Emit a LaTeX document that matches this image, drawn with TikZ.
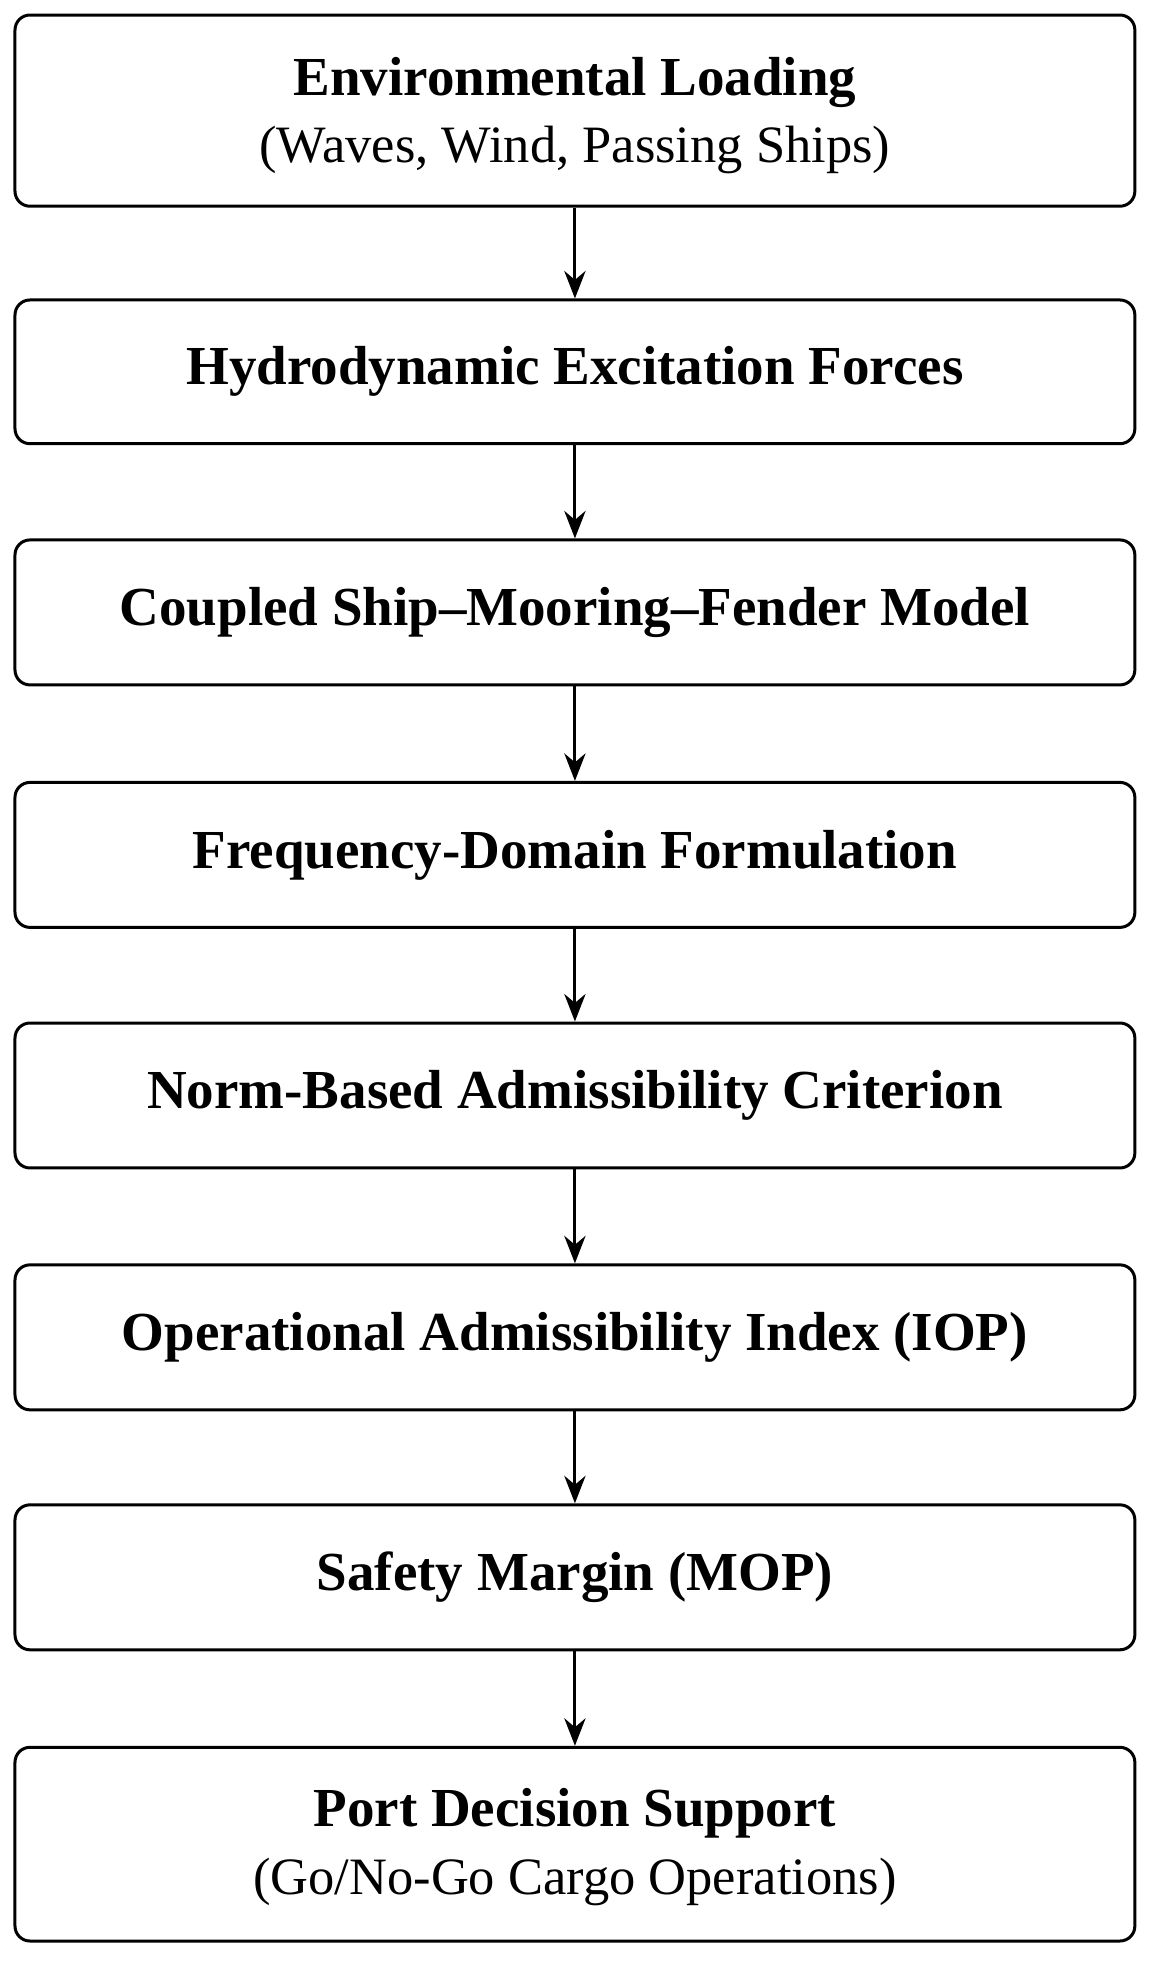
\documentclass[tikz,border=0pt]{standalone}
\usepackage{fontspec}
\setmainfont{Liberation Serif}
\usetikzlibrary{arrows.meta}
\begin{document}
\begin{tikzpicture}[x=0.5pt,y=-0.5pt,
 box/.style={draw,line width=1.2pt,rounded corners=6pt,minimum width=448pt,align=center,inner sep=0pt},
 arr/.style={-{Stealth[length=11pt,width=8.5pt]},line width=1.2pt},
 t/.style={font=\fontsize{22}{26}\selectfont\bfseries},
 s/.style={font=\fontsize{21}{25}\selectfont}]
\useasboundingbox (0,0) rectangle (920,1569);
\node[box,minimum height=76.5pt] (b1) at (460,88.5) {};
\node[t] at (460,66) {Environmental Loading};
\node[s] at (460,120) {(Waves, Wind, Passing Ships)};
\node[box,minimum height=57.5pt,t] (b2) at (460,297.5) {Hydrodynamic Excitation Forces};
\node[box,minimum height=58pt,t] (b3) at (460,490) {Coupled Ship–Mooring–Fender Model};
\node[box,minimum height=58pt,t] (b4) at (460,684) {Frequency-Domain Formulation};
\node[box,minimum height=58pt,t] (b5) at (460,876.5) {Norm-Based Admissibility Criterion};
\node[box,minimum height=58pt,t] (b6) at (460,1070) {Operational Admissibility Index (IOP)};
\node[box,minimum height=58pt,t] (b7) at (460,1262) {Safety Margin (MOP)};
\node[box,minimum height=77.5pt] (b8) at (460,1475.5) {};
\node[t] at (460,1451) {Port Decision Support};
\node[s] at (460,1506) {(Go/No-Go Cargo Operations)};
\foreach \a/\b in {b1/b2,b2/b3,b3/b4,b4/b5,b5/b6,b6/b7,b7/b8}
  \draw[arr] (\a.south) -- (\b.north);
\end{tikzpicture}
\end{document}
